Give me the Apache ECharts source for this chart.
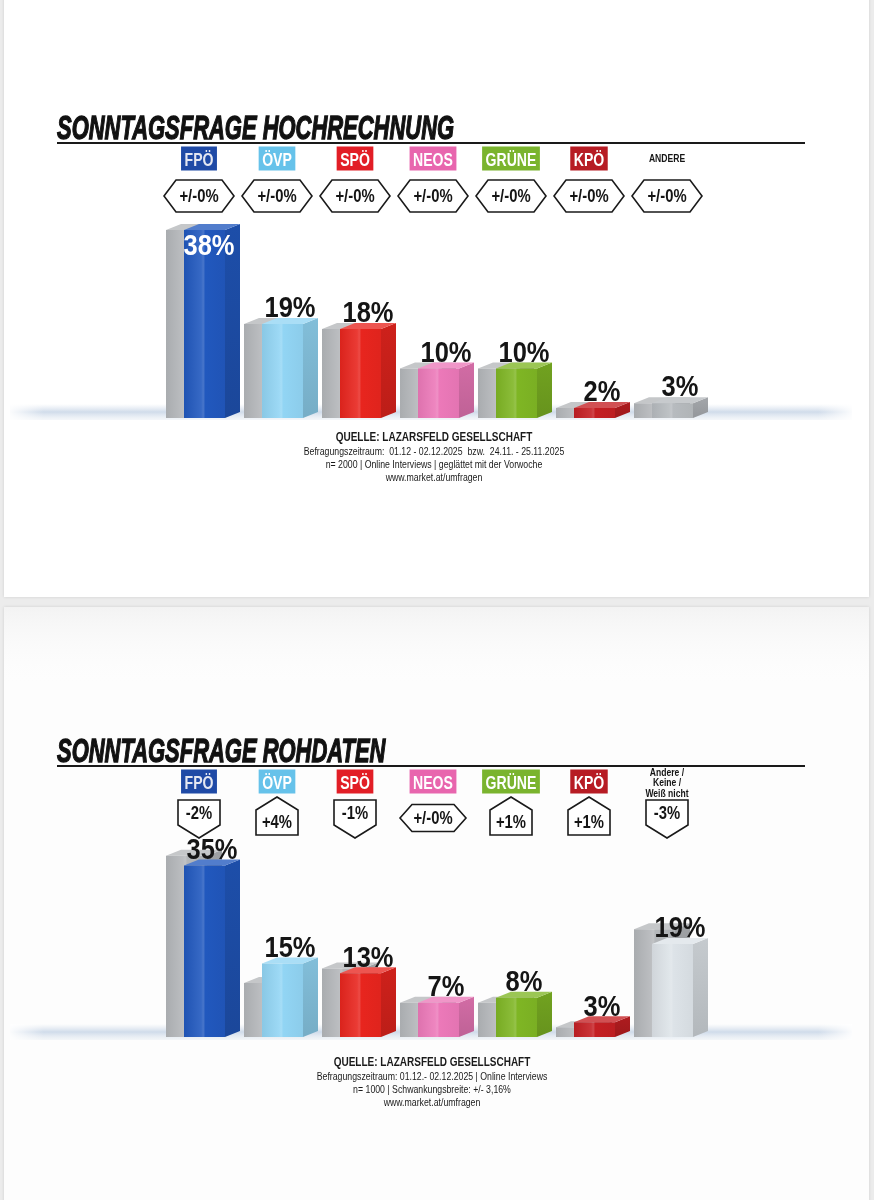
<!DOCTYPE html>
<html><head><meta charset="utf-8">
<script src="https://cdn.jsdelivr.net/npm/echarts@6/dist/echarts.min.js"></script>
<style>html,body{margin:0;padding:0;background:#ececec}#c{width:874px;height:1200px}</style>
</head><body><div id="c"></div>
<script>
// ---------- DATA ----------
const partiesHoch = ['FPÖ','ÖVP','SPÖ','NEOS','GRÜNE','KPÖ','ANDERE'];
const hochCurrent = [38,19,18,10,10,2,3];
const hochPrevious = [38,19,18,10,10,2,3];
const hochChange = ['+/-0%','+/-0%','+/-0%','+/-0%','+/-0%','+/-0%','+/-0%'];

const partiesRoh = ['FPÖ','ÖVP','SPÖ','NEOS','GRÜNE','KPÖ','Andere /\nKeine /\nWeiß nicht'];
const rohCurrent = [35,15,13,7,8,3,19];
const rohPrevious = [37,11,14,7,7,2,22];
const rohChange = ['-2%','+4%','-1%','+/-0%','+1%','+1%','-3%'];

const titles = ['SONNTAGSFRAGE HOCHRECHNUNG','SONNTAGSFRAGE ROHDATEN'];
const sourceHoch = ['QUELLE: LAZARSFELD GESELLSCHAFT',
  'Befragungszeitraum:  01.12 - 02.12.2025  bzw.  24.11. - 25.11.2025',
  'n= 2000 | Online Interviews | geglättet mit der Vorwoche',
  'www.market.at/umfragen'];
const sourceRoh = ['QUELLE: LAZARSFELD GESELLSCHAFT',
  'Befragungszeitraum: 01.12.- 02.12.2025 | Online Interviews',
  'n= 1000 | Schwankungsbreite: +/- 3,16%',
  'www.market.at/umfragen'];
const yMin = 0, yMax = 40;

// ---------- STYLE ----------
const FONT = '"Liberation Sans", Arial, sans-serif';
const barColorsHoch = ['#2158be','#92d5f4','#e8251e','#ec79b9','#7fb624','#c41f23','#b7bbbf'];
const barColorsRoh  = ['#2158be','#92d5f4','#e8251e','#ec79b9','#7fb624','#c41f23','#dde3e8'];
const boxColors = ['#1f4aa6','#66c2ea','#e21e26','#e866ae','#7ab42e','#b71c24', null];
const GREY = '#b4b7ba';

const _ctx = document.createElement('canvas').getContext('2d');
function textW(t, font){ _ctx.font = font; return _ctx.measureText(t).width; }

function shade(hex, f){
  const n = parseInt(hex.slice(1),16);
  let r=(n>>16)&255, g=(n>>8)&255, b=n&255;
  const t = f<0?0:255, p=Math.abs(f);
  r=Math.round((t-r)*p+r); g=Math.round((t-g)*p+g); b=Math.round((t-b)*p+b);
  return 'rgb('+r+','+g+','+b+')';
}
function frontFill(c){
  return {type:'linear',x:0,y:0,x2:1,y2:0,colorStops:[
    {offset:0,color:shade(c,-0.06)},{offset:0.42,color:shade(c,0.10)},
    {offset:0.47,color:shade(c,0.18)},{offset:0.52,color:c},{offset:1,color:shade(c,-0.04)}]};
}

const FW = 41, DX = 15, DY = 6;
function boxShapes(x1, top, base, c, sideDark){
  const x2 = x1 + FW;
  return [
    {type:'polygon', shape:{points:[[x2,top],[x2+DX,top-DY],[x2+DX,base-DY],[x2,base]]},
      style:{fill:{type:'linear',x:0,y:0,x2:0,y2:1,colorStops:[{offset:0,color:shade(c,-sideDark)},{offset:1,color:shade(c,-sideDark-0.08)}]}}},
    {type:'polygon', shape:{points:[[x1,top],[x1+DX,top-DY],[x2+DX,top-DY],[x2,top]]},
      style:{fill:shade(c,0.22)}},
    {type:'rect', shape:{x:x1,y:top,width:FW,height:base-top}, style:{fill:frontFill(c)}}
  ];
}

function prevRenderer(){
  return function(params, api){
    const i = api.value(0), v = api.value(1);
    const b = api.coord([i,0]), t = api.coord([i,v]);
    return {type:'group', children: boxShapes(b[0]-33, t[1], b[1], GREY, 0.12)};
  };
}
function curRenderer(colors){
  return function(params, api){
    const i = api.value(0), v = api.value(1);
    const b = api.coord([i,0]), t = api.coord([i,v]);
    const gTop = api.coord([i,yMax])[1];
    const cx = b[0];
    const kids = boxShapes(cx-15, t[1], b[1], colors[i], 0.11);
    const inside = (t[1] - DY - 26) < gTop - 12;
    kids.push({type:'text', x: cx + (inside ? 10 : 13), y: inside ? t[1] + 2 : t[1], scaleX:0.85,
      style:{text: v + '%', font:'bold 30px ' + FONT, fill: inside ? '#ffffff' : '#151515',
        align:'center', textAlign:'center', verticalAlign: inside ? 'top' : 'bottom', textVerticalAlign: inside ? 'top' : 'bottom'}});
    return {type:'group', children: kids};
  };
}
function badgeRenderer(changes, cfg){
  return function(params, api){
    const i = api.value(0);
    const cx = api.coord([i,0])[0];
    const gTop = api.coord([i,yMax])[1];
    const s = changes[params.dataIndex];
    let pts, ty;
    if (s.indexOf('+/-') === 0) {
      const cy = gTop + cfg.hexCy, hw = cfg.hexW/2, hh = cfg.hexH/2;
      pts = [[cx-hw,cy],[cx-hw+12,cy-hh],[cx+hw-12,cy-hh],[cx+hw,cy],[cx+hw-12,cy+hh],[cx-hw+12,cy+hh]];
      ty = cy;
    } else if (s[0] === '-') {
      const y0 = gTop + cfg.downY;
      pts = [[cx-21,y0],[cx+21,y0],[cx+21,y0+25],[cx,y0+38],[cx-21,y0+25]];
      ty = y0 + 13;
    } else {
      const y0 = gTop + cfg.upY;
      pts = [[cx,y0],[cx+21,y0+13],[cx+21,y0+38],[cx-21,y0+38],[cx-21,y0+13]];
      ty = y0 + 25;
    }
    return {type:'group', children:[
      {type:'polygon', shape:{points:pts}, style:{fill:'#ffffff', stroke:'#1a1a1a', lineWidth:1.6}},
      {type:'text', x:cx, y:ty+1, scaleX:0.78, style:{text:s, font:'bold 19px '+FONT, fill:'#151515',
        align:'center', textAlign:'center', verticalAlign:'middle', textVerticalAlign:'middle'}}
    ]};
  };
}
function partyLabelRenderer(names, cfg){
  return function(params, api){
    const i = api.value(0);
    const cx = api.coord([i,0])[0];
    const gTop = api.coord([i,yMax])[1];
    const cy = gTop + cfg.cy;
    const name = names[params.dataIndex];
    const bg = boxColors[params.dataIndex];
    if (bg) {
      const font = 'bold 19px ' + FONT, sc = 0.74;
      const w = textW(name, font) * sc + 7;
      return {type:'group', children:[
        {type:'rect', shape:{x:cx-w/2, y:cy-12, width:w, height:24}, style:{fill:bg}},
        {type:'text', x:cx, y:cy+2.5, scaleX:sc, style:{text:name, font:font, fill: params.dataIndex===0 ? '#e4e7f2' : '#ffffff',
          align:'center', textAlign:'center', verticalAlign:'middle', textVerticalAlign:'middle'}}
      ]};
    }
    const lines = name.split('\n');
    const kids = lines.map((ln, k) => ({type:'text', x:cx, y: cy + cfg.smallDy + (k - (lines.length-1)/2) * 10.5, scaleX:0.78,
      style:{text:ln, font:'bold 11px '+FONT, fill:'#151515', align:'center', textAlign:'center', verticalAlign:'middle', textVerticalAlign:'middle'}}));
    return {type:'group', children:kids};
  };
}

const GRID_LEFT = 160, GRID_W = 546;
const grids = [
  {left:GRID_LEFT, width:GRID_W, top:220, height:198},
  {left:GRID_LEFT, width:GRID_W, top:841, height:196}
];
function xAxisFor(idx, data){
  return {gridIndex:idx, type:'category', data:data, position:'top', boundaryGap:true,
    axisLine:{show:false}, axisTick:{show:false}, splitLine:{show:false}, axisLabel:{show:false}};
}
function yAxisFor(idx){
  return {gridIndex:idx, type:'value', min:yMin, max:yMax, interval:10, show:false};
}
const toPairs = arr => arr.map((v,i)=>[i,v]);

// ---------- GRAPHICS (decoration) ----------
function floor(y){
  return [{type:'rect', z:1, shape:{x:10,y:y,width:842,height:16},
    style:{fill:{type:'linear',x:0,y:0,x2:0,y2:1,colorStops:[
      {offset:0,color:'rgba(214,224,236,0)'},{offset:0.5,color:'rgba(203,216,232,0.9)'},{offset:1,color:'rgba(226,233,241,0.35)'}]}}},
    {type:'rect', z:1, shape:{x:10,y:y,width:842,height:16},
    style:{fill:{type:'linear',x:0,y:0,x2:1,y2:0,colorStops:[
      {offset:0,color:'rgba(255,255,255,0.9)'},{offset:0.04,color:'rgba(255,255,255,0)'},{offset:0.96,color:'rgba(255,255,255,0)'},{offset:1,color:'rgba(255,255,255,0.9)'}]}}}];
}
function titleBlock(text, yText, yLine){
  return [
    {type:'text', z:5, x:57, y:yText, scaleX:0.665,
      style:{text:text, font:'italic bold 33px '+FONT, fill:'#111', stroke:'#111', lineWidth:1.3,
        verticalAlign:'bottom', textVerticalAlign:'bottom'}},
    {type:'line', z:5, shape:{x1:57,y1:yLine,x2:805,y2:yLine}, style:{stroke:'#1a1a1a', lineWidth:2}}
  ];
}
function sourceBlock(lines, cx, y0){
  const out = [];
  lines.forEach((t,k)=>{
    out.push({type:'text', z:5, x:cx, y:y0 + (k===0?0:13*k+1), scaleX: k===0?0.8:0.76,
      style:{text:t, font:(k===0?'bold 12.5px ':'11.5px ')+FONT, fill:'#1a1a1a',
        align:'center', textAlign:'center', verticalAlign:'middle', textVerticalAlign:'middle'}});
  });
  return out;
}

const graphics = [].concat(
  [{type:'rect', z:0, shape:{x:4,y:-5,width:865,height:602}, style:{fill:'#ffffff', shadowBlur:3, shadowColor:'rgba(0,0,0,0.12)'}},
   {type:'rect', z:0, shape:{x:4,y:607,width:865,height:600}, style:{fill:'#fdfdfd', shadowBlur:3, shadowColor:'rgba(0,0,0,0.12)'}},
   {type:'rect', z:0, shape:{x:4,y:607,width:865,height:80}, style:{fill:{type:'linear',x:0,y:0,x2:0,y2:1,colorStops:[{offset:0,color:'#f3f3f3'},{offset:1,color:'rgba(253,253,253,0)'}]}}}],
  floor(404), floor(1024),
  titleBlock(titles[0], 146, 143),
  titleBlock(titles[1], 769, 766),
  sourceBlock(sourceHoch, 434, 438),
  sourceBlock(sourceRoh, 432, 1063)
);

const chart = echarts.init(document.getElementById('c'), null, {renderer:'canvas'});
chart.setOption({
  backgroundColor:'#ececec',
  animation:false,
  grid: grids,
  xAxis: [xAxisFor(0, partiesHoch), xAxisFor(1, partiesRoh)],
  yAxis: [yAxisFor(0), yAxisFor(1)],
  graphic: {elements: graphics},
  series: [
    {type:'custom', name:'labels1', xAxisIndex:0, yAxisIndex:0, z:4, clip:false, data:toPairs(hochCurrent), renderItem: partyLabelRenderer(partiesHoch, {cy:-61.5, smallDy:0}), encode:{x:0,y:1}},
    {type:'custom', name:'vorher1', xAxisIndex:0, yAxisIndex:0, z:2, clip:false, data:toPairs(hochPrevious), renderItem: prevRenderer(), encode:{x:0,y:1}},
    {type:'custom', name:'aktuell1', xAxisIndex:0, yAxisIndex:0, z:3, clip:false, data:toPairs(hochCurrent), renderItem: curRenderer(barColorsHoch), encode:{x:0,y:1}},
    {type:'custom', name:'delta1', xAxisIndex:0, yAxisIndex:0, z:4, clip:false, data:toPairs(hochCurrent), renderItem: badgeRenderer(hochChange, {hexCy:-24, hexW:70, hexH:32, downY:-41, upY:-44}), encode:{x:0,y:1}},
    {type:'custom', name:'labels2', xAxisIndex:1, yAxisIndex:1, z:4, clip:false, data:toPairs(rohCurrent), renderItem: partyLabelRenderer(partiesRoh, {cy:-59.5, smallDy:1.5}), encode:{x:0,y:1}},
    {type:'custom', name:'vorher2', xAxisIndex:1, yAxisIndex:1, z:2, clip:false, data:toPairs(rohPrevious), renderItem: prevRenderer(), encode:{x:0,y:1}},
    {type:'custom', name:'aktuell2', xAxisIndex:1, yAxisIndex:1, z:3, clip:false, data:toPairs(rohCurrent), renderItem: curRenderer(barColorsRoh), encode:{x:0,y:1}},
    {type:'custom', name:'delta2', xAxisIndex:1, yAxisIndex:1, z:4, clip:false, data:toPairs(rohCurrent), renderItem: badgeRenderer(rohChange, {hexCy:-23, hexW:66, hexH:27, downY:-41, upY:-44}), encode:{x:0,y:1}}
  ]
});
</script></body></html>
